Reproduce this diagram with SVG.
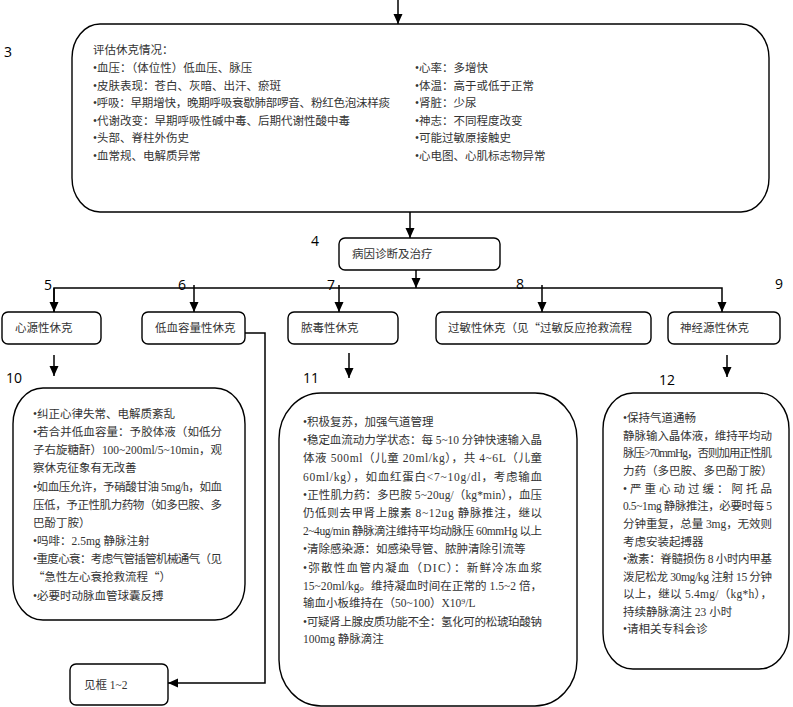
<svg xmlns="http://www.w3.org/2000/svg" width="793" height="707" viewBox="0 0 793 707">
<style>
.bx{fill:#fff;stroke:#000;stroke-width:1.4}
.ln{fill:none;stroke:#000;stroke-width:1.5}
.t{font-family:"Liberation Serif","Noto Sans CJK SC",serif;font-size:11.5px;fill:#333}
.q{font-family:"Noto Sans CJK SC",sans-serif}
.n{font-family:"Open Sans","Liberation Sans",sans-serif;font-size:14px;fill:#000}
</style>
<defs>
<marker id="ah" markerUnits="userSpaceOnUse" markerWidth="10" markerHeight="10" refX="10" refY="4.5" orient="auto">
<path d="M0,0 L10,4.5 L0,9 z" fill="#000"/>
</marker>
</defs>
<rect width="793" height="707" fill="#fff"/>

<g id="connectors">
<line class="ln" x1="398" y1="0" x2="398" y2="24" marker-end="url(#ah)"/>
<line class="ln" x1="193" y1="108" x2="193" y2="131" marker-end="url(#ah)"/>
<line class="ln" x1="410" y1="212" x2="410" y2="238" marker-end="url(#ah)"/>
<line class="ln" x1="416" y1="270" x2="416" y2="288" marker-end="url(#ah)"/>
<polyline class="ln" points="54,312 54,288 722,288 722,312" marker-end="url(#ah)"/>
<line class="ln" x1="54" y1="288" x2="54" y2="312" marker-end="url(#ah)"/>
<line class="ln" x1="194" y1="285" x2="194" y2="312" marker-end="url(#ah)"/>
<line class="ln" x1="339" y1="285" x2="339" y2="312" marker-end="url(#ah)"/>
<line class="ln" x1="542" y1="285" x2="542" y2="312" marker-end="url(#ah)"/>
<line class="ln" x1="54" y1="355" x2="54" y2="376" marker-end="url(#ah)"/>
<line class="ln" x1="349" y1="353" x2="349" y2="378" marker-end="url(#ah)"/>
<line class="ln" x1="727" y1="355" x2="727" y2="377" marker-end="url(#ah)"/>
<polyline class="ln" points="245,333 265,333 265,683 168,683" marker-end="url(#ah)"/>
</g>

<g id="n3">
<text class="n" x="4" y="57">3</text>
<rect class="bx" x="72" y="24" width="697" height="188" rx="28" ry="34"/>
<text class="t" x="93" y="54">评估休克情况：</text>
<text class="t" x="93" y="72">•血压：（体位性）低血压、脉压</text>
<text class="t" x="93" y="90">•皮肤表现：苍白、灰暗、出汗、瘀斑</text>
<text class="t" x="93" y="107" textLength="297" lengthAdjust="spacing">•呼吸：早期增快，晚期呼吸衰歇肺部啰音、粉红色泡沫样痰</text>
<text class="t" x="93" y="125">•代谢改变：早期呼吸性碱中毒、后期代谢性酸中毒</text>
<text class="t" x="93" y="142">•头部、脊柱外伤史</text>
<text class="t" x="93" y="160">•血常规、电解质异常</text>
<text class="t" x="415" y="72">•心率：多增快</text>
<text class="t" x="415" y="90">•体温：高于或低于正常</text>
<text class="t" x="415" y="107">•肾脏：少尿</text>
<text class="t" x="415" y="125">•神志：不同程度改变</text>
<text class="t" x="415" y="142">•可能过敏原接触史</text>
<text class="t" x="415" y="160">•心电图、心肌标志物异常</text>
</g>

<g id="n4">
<text class="n" x="311" y="246">4</text>
<rect class="bx" x="339" y="238" width="161" height="32" rx="6"/>
<text class="t" x="352" y="258">病因诊断及治疗</text>
</g>

<g id="n5">
<text class="n" x="44" y="290">5</text>
<rect class="bx" x="2" y="312" width="99" height="32" rx="6"/>
<text class="t" x="15" y="332">心源性休克</text>
</g>

<g id="n6">
<text class="n" x="178" y="290">6</text>
<rect class="bx" x="142" y="312" width="103" height="32" rx="6"/>
<text class="t" x="155" y="332">低血容量性休克</text>
</g>

<g id="n7">
<text class="n" x="327" y="290">7</text>
<rect class="bx" x="288" y="312" width="110" height="32" rx="6"/>
<text class="t" x="301" y="332">脓毒性休克</text>
</g>

<g id="n8">
<text class="n" x="516" y="289">8</text>
<rect class="bx" x="436" y="312" width="215" height="32" rx="6"/>
<text class="t" x="448" y="332">过敏性休克（见<tspan class="q">“</tspan>过敏反应抢救流程</text>
</g>

<g id="n9">
<text class="n" x="775" y="289">9</text>
<rect class="bx" x="668" y="312" width="112" height="32" rx="6"/>
<text class="t" x="680" y="332">神经源性休克</text>
</g>

<g id="n10">
<text class="n" x="6" y="383">10</text>
<rect class="bx" x="13" y="388" width="232" height="232" rx="30" ry="36"/>
<text class="t" x="33" y="418">•纠正心律失常、电解质紊乱</text>
<text class="t" x="33" y="436" textLength="189" lengthAdjust="spacing">•若合并低血容量：予胶体液（如低分</text>
<text class="t" x="33" y="454" textLength="189" lengthAdjust="spacing">子右旋糖酐）100~200ml/5~10min，观</text>
<text class="t" x="33" y="472">察休克征象有无改善</text>
<text class="t" x="33" y="491" textLength="189" lengthAdjust="spacing">•如血压允许，予硝酸甘油 5mg/h，如血</text>
<text class="t" x="33" y="509" textLength="189" lengthAdjust="spacing">压低，予正性肌力药物（如多巴胺、多</text>
<text class="t" x="33" y="527">巴酚丁胺）</text>
<text class="t" x="33" y="545">•吗啡：2.5mg 静脉注射</text>
<text class="t" x="33" y="563" textLength="189" lengthAdjust="spacing">•重度心衰：考虑气管插管机械通气（见</text>
<text class="t" x="33" y="581"><tspan class="q">“</tspan>急性左心衰抢救流程<tspan class="q">“</tspan>）</text>
<text class="t" x="33" y="600">•必要时动脉血管球囊反搏</text>
</g>

<g id="n11">
<text class="n" x="303" y="383">11</text>
<rect class="bx" x="279" y="393" width="298" height="313" rx="42" ry="46"/>
<text class="t" x="303" y="426">•积极复苏，加强气道管理</text>
<text class="t" x="303" y="444" textLength="239" lengthAdjust="spacing">•稳定血流动力学状态：每 5~10 分钟快速输入晶</text>
<text class="t" x="303" y="462" textLength="239" lengthAdjust="spacing">体液 500ml（儿童 20ml/kg），共 4~6L（儿童</text>
<text class="t" x="303" y="481" textLength="239" lengthAdjust="spacing">60ml/kg），如血红蛋白&lt;7~10g/dl，考虑输血</text>
<text class="t" x="303" y="499" textLength="239" lengthAdjust="spacing">•正性肌力药：多巴胺 5~20ug/（kg*min），血压</text>
<text class="t" x="303" y="517" textLength="239" lengthAdjust="spacing">仍低则去甲肾上腺素 8~12ug 静脉推注，继以</text>
<text class="t" x="303" y="535" textLength="239" lengthAdjust="spacing">2~4ug/min 静脉滴注维持平均动脉压 60mmHg 以上</text>
<text class="t" x="303" y="553">•清除感染源：如感染导管、脓肿清除引流等</text>
<text class="t" x="303" y="572" textLength="239" lengthAdjust="spacing">•弥散性血管内凝血（DIC）：新鲜冷冻血浆</text>
<text class="t" x="303" y="590" textLength="239" lengthAdjust="spacing">15~20ml/kg。维持凝血时间在正常的 1.5~2 倍，</text>
<text class="t" x="303" y="607">输血小板维持在（50~100）X10⁹/L</text>
<text class="t" x="303" y="626" textLength="239" lengthAdjust="spacing">•可疑肾上腺皮质功能不全：氢化可的松琥珀酸钠</text>
<text class="t" x="303" y="643">100mg 静脉滴注</text>
</g>

<g id="n12">
<text class="n" x="659" y="385">12</text>
<rect class="bx" x="603" y="393" width="186" height="276" rx="30" ry="36"/>
<text class="t" x="623" y="422">•保持气道通畅</text>
<text class="t" x="623" y="440" textLength="149" lengthAdjust="spacing">静脉输入晶体液，维持平均动</text>
<text class="t" x="623" y="457" textLength="149" lengthAdjust="spacing">脉压&gt;70mmHg，否则加用正性肌</text>
<text class="t" x="623" y="475">力药（多巴胺、多巴酚丁胺）</text>
<text class="t" x="623" y="493" textLength="149" lengthAdjust="spacing">•严重心动过缓：阿托品</text>
<text class="t" x="623" y="510" textLength="149" lengthAdjust="spacing">0.5~1mg 静脉推注，必要时每 5</text>
<text class="t" x="623" y="528" textLength="149" lengthAdjust="spacing">分钟重复，总量 3mg，无效则</text>
<text class="t" x="623" y="546">考虑安装起搏器</text>
<text class="t" x="623" y="563" textLength="149" lengthAdjust="spacing">•激素：脊髓损伤 8 小时内甲基</text>
<text class="t" x="623" y="581" textLength="149" lengthAdjust="spacing">泼尼松龙 30mg/kg 注射 15 分钟</text>
<text class="t" x="623" y="598" textLength="149" lengthAdjust="spacing">以上，继以 5.4mg/（kg*h），</text>
<text class="t" x="623" y="616">持续静脉滴注 23 小时</text>
<text class="t" x="623" y="633">•请相关专科会诊</text>
</g>

<g id="n13">
<rect class="bx" x="70" y="664" width="98" height="41" rx="6"/>
<text class="t" x="84" y="689">见框 1~2</text>
</g>
</svg>
